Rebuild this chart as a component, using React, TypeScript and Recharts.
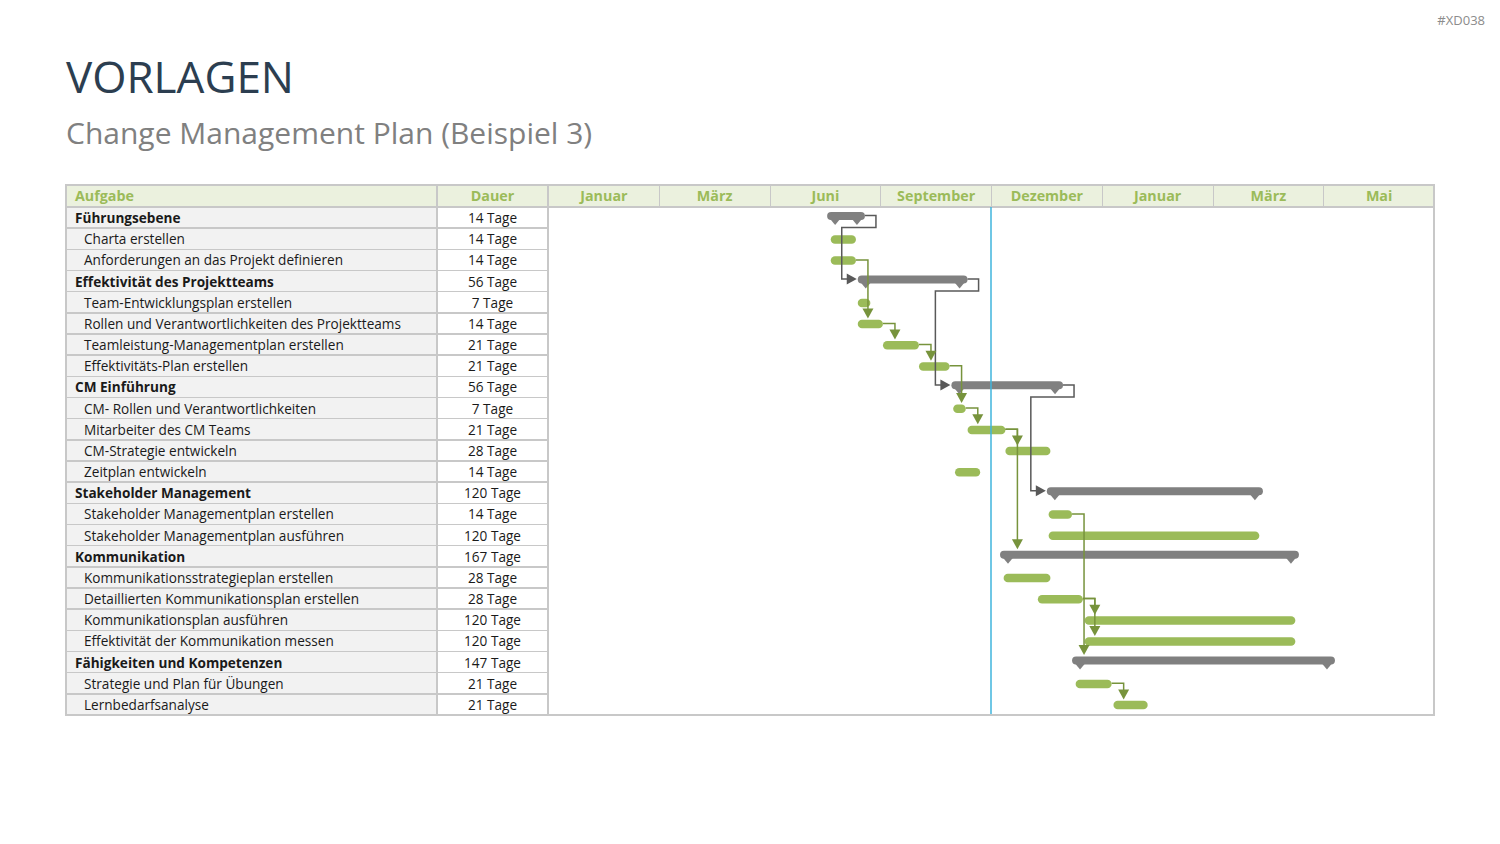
import React from 'react';
import { BarChart, Bar, XAxis, YAxis, ReferenceLine } from 'recharts';

const taskNames = [
  'Führungsebene',
  'Charta erstellen',
  'Anforderungen an das Projekt definieren',
  'Effektivität des Projektteams',
  'Team-Entwicklungsplan erstellen',
  'Rollen und Verantwortlichkeiten des Projektteams',
  'Teamleistung-Managementplan erstellen',
  'Effektivitäts-Plan erstellen',
  'CM Einführung',
  'CM- Rollen und Verantwortlichkeiten',
  'Mitarbeiter des CM Teams',
  'CM-Strategie entwickeln',
  'Zeitplan entwickeln',
  'Stakeholder Management',
  'Stakeholder Managementplan erstellen',
  'Stakeholder Managementplan ausführen',
  'Kommunikation',
  'Kommunikationsstrategieplan erstellen',
  'Detaillierten Kommunikationsplan erstellen',
  'Kommunikationsplan ausführen',
  'Effektivität der Kommunikation messen',
  'Fähigkeiten und Kompetenzen',
  'Strategie und Plan für Übungen',
  'Lernbedarfsanalyse',
];
const durations = [14, 14, 14, 56, 7, 14, 21, 21, 56, 7, 21, 28, 14, 120, 14, 120, 167, 28, 28, 120, 120, 147, 21, 21];
const summaryRows = [0, 3, 8, 13, 16, 21];
// start / end in days on the timeline
const starts = [155, 157, 157, 172, 172, 172, 186, 206, 224, 225, 233, 254, 226, 277, 278, 278, 251, 253, 272, 298, 298, 291, 293, 314];
const ends = [176, 171, 171, 233, 179, 186, 206, 223, 286, 232, 254, 279, 240, 397, 291, 395, 417, 279, 297, 415, 415, 437, 313, 333];
const monthLabels = ['Januar', 'März', 'Juni', 'September', 'Dezember', 'Januar', 'März', 'Mai'];
const phaseLinks = [[0, 3], [3, 8], [8, 13]];
const taskLinks = [[2, 5], [5, 6], [6, 7], [7, 9], [9, 10], [10, 11], [10, 16], [14, 21], [18, 19], [18, 20], [22, 23]];
const todayMark = 246;
const timelineEnd = 492;

const GREEN = '#9BBB59';
const DARK_GREEN = '#77933C';
const GRAY = '#808080';
const LINK_GRAY = '#595959';
const BORDER = '#C8C8C8';
const FONT = '"Open Sans", sans-serif';

const TOP = 185;
const HEAD_H = 22;
const BODY_TOP = TOP + HEAD_H;
const BODY_H = 508;
const ROW_H = BODY_H / taskNames.length;
const LEFT = 66;
const COL1 = 437;
const COL2 = 548;
const RIGHT = 1434;

const rows = taskNames.map((name, i) => ({
  id: `r${i}`,
  name,
  range: [starts[i], ends[i]],
  summary: summaryRows.includes(i),
}));

const TaskShape = (props: any) => {
  const { x, y, width, height, payload } = props;
  const cy = y + height / 2;
  if (payload.summary) {
    const top = cy - 6;
    const bot = cy + 2;
    return (
      <g>
        <rect x={x} y={top} width={width} height={8} rx={4} fill={GRAY} />
        <polygon points={`${x + 3},${bot - 1} ${x + 13},${bot - 1} ${x + 8},${bot + 5}`} fill={GRAY} />
        <polygon points={`${x + width - 13},${bot - 1} ${x + width - 3},${bot - 1} ${x + width - 8},${bot + 5}`} fill={GRAY} />
      </g>
    );
  }
  return <rect x={x} y={cy - 4} width={width} height={8.5} rx={4.25} fill={GREEN} />;
};

const phaseShape = (p: any) => {
  const { x1, y1, x2, y2 } = p;
  const a = y1 - 2;
  const b = y2 - 2;
  const d = `M${x1},${a} H${x1 + 11} V${y1 + 10} H${x2 - 16} V${b} H${x2 - 8}`;
  return (
    <g>
      <path d={d} fill="none" stroke={LINK_GRAY} strokeWidth={1.5} />
      <polygon points={`${x2 - 11},${b - 5.5} ${x2 - 11},${b + 5.5} ${x2 - 1},${b}`} fill={LINK_GRAY} />
    </g>
  );
};

const taskShape = (toSummary: boolean) => (p: any) => {
  const { x1, y1, x2, y2 } = p;
  const vx = x1 + 12;
  const tip = toSummary ? y2 - 7 : y2 - 5;
  return (
    <g>
      <path d={`M${x1},${y1} H${vx} V${tip - 9}`} fill="none" stroke={DARK_GREEN} strokeWidth={1.5} />
      <polygon points={`${vx - 5.5},${tip - 10} ${vx + 5.5},${tip - 10} ${vx},${tip}`} fill={DARK_GREEN} />
    </g>
  );
};

const GanttChart = () => (
  <BarChart
    width={RIGHT - COL2}
    height={BODY_H}
    data={rows}
    layout="vertical"
    margin={{ top: 0, right: 0, bottom: 0, left: 0 }}
    barSize={8}
  >
    <XAxis type="number" domain={[0, timelineEnd]} hide allowDataOverflow />
    <YAxis type="category" dataKey="id" hide width={0} />
    <ReferenceLine x={todayMark} stroke="#3FB4DC" strokeWidth={1.5} ifOverflow="visible" />
    <Bar dataKey="range" shape={TaskShape} isAnimationActive={false} />
    {phaseLinks.map(([a, b]) => (
      <ReferenceLine
        key={`p${a}-${b}`}
        segment={[{ x: ends[a], y: `r${a}` }, { x: starts[b], y: `r${b}` }]}
        ifOverflow="visible"
        shape={phaseShape}
      />
    ))}
    {taskLinks.map(([a, b]) => (
      <ReferenceLine
        key={`t${a}-${b}`}
        segment={[{ x: ends[a], y: `r${a}` }, { x: starts[b], y: `r${b}` }]}
        ifOverflow="visible"
        shape={taskShape(summaryRows.includes(b))}
      />
    ))}
  </BarChart>
);

export default function App() {
  const monthW = (RIGHT - COL2) / monthLabels.length;
  return (
    <div style={{ position: 'absolute', left: 0, top: 0, width: 1500, height: 844, background: '#fff', fontFamily: FONT, overflow: 'hidden' }}>
      <div style={{ position: 'absolute', right: 15, top: 11, fontSize: 13, color: '#8C8C8C' }}>#XD038</div>
      <div style={{ position: 'absolute', left: 66, top: 50, fontSize: 44, color: '#2C3E50', lineHeight: 1.2 }}>VORLAGEN</div>
      <div style={{ position: 'absolute', left: 66, top: 115, fontSize: 30, color: '#808080', lineHeight: 1.2 }}>Change Management Plan (Beispiel 3)</div>

      {/* header */}
      <div style={{ position: 'absolute', left: LEFT, top: TOP, width: RIGHT - LEFT, height: HEAD_H, background: '#EBF1DE' }} />
      <div style={{ position: 'absolute', left: 75, top: TOP, height: HEAD_H, lineHeight: `${HEAD_H}px`, fontSize: 14.3, fontWeight: 700, color: GREEN }}>Aufgabe</div>
      <div style={{ position: 'absolute', left: COL1, top: TOP, width: COL2 - COL1, height: HEAD_H, lineHeight: `${HEAD_H}px`, textAlign: 'center', fontSize: 14.3, fontWeight: 700, color: GREEN }}>Dauer</div>
      {monthLabels.map((m, i) => (
        <div key={i} style={{ position: 'absolute', left: COL2 + i * monthW, top: TOP, width: monthW, height: HEAD_H, lineHeight: `${HEAD_H}px`, textAlign: 'center', fontSize: 14.3, fontWeight: 700, color: GREEN, borderLeft: `1.5px solid ${BORDER}`, boxSizing: 'border-box' }}>{m}</div>
      ))}

      {/* table rows */}
      <div style={{ position: 'absolute', left: LEFT, top: BODY_TOP, width: COL1 - LEFT, height: BODY_H, background: '#F2F2F2' }} />
      {taskNames.map((name, i) => {
        const bold = summaryRows.includes(i);
        const top = BODY_TOP + i * ROW_H;
        return (
          <React.Fragment key={i}>
            <div style={{ position: 'absolute', left: bold ? 75 : 84, top, height: ROW_H, lineHeight: `${ROW_H}px`, fontSize: 13.6, fontWeight: bold ? 700 : 400, color: '#1a1a1a', whiteSpace: 'nowrap' }}>{name}</div>
            <div style={{ position: 'absolute', left: COL1, top, width: COL2 - COL1, height: ROW_H, lineHeight: `${ROW_H}px`, textAlign: 'center', fontSize: 13.6, color: '#1a1a1a' }}>{durations[i]} Tage</div>
            {i > 0 && <div style={{ position: 'absolute', left: LEFT, top: top - 0.75, width: COL2 - LEFT, height: 1.5, background: BORDER }} />}
          </React.Fragment>
        );
      })}
      <div style={{ position: 'absolute', left: LEFT, top: BODY_TOP - 1, width: RIGHT - LEFT, height: 1.5, background: BORDER }} />
      <div style={{ position: 'absolute', left: COL1 - 0.75, top: TOP, width: 1.5, height: HEAD_H + BODY_H, background: BORDER }} />
      <div style={{ position: 'absolute', left: COL2 - 0.75, top: TOP, width: 1.5, height: HEAD_H + BODY_H, background: BORDER }} />

      <div style={{ position: 'absolute', left: COL2, top: BODY_TOP }}>
        <GanttChart />
      </div>

      <div style={{ position: 'absolute', left: LEFT - 1, top: TOP - 1, width: RIGHT - LEFT + 2, height: HEAD_H + BODY_H + 2, border: `2px solid ${BORDER}`, boxSizing: 'border-box' }} />
    </div>
  );
}
